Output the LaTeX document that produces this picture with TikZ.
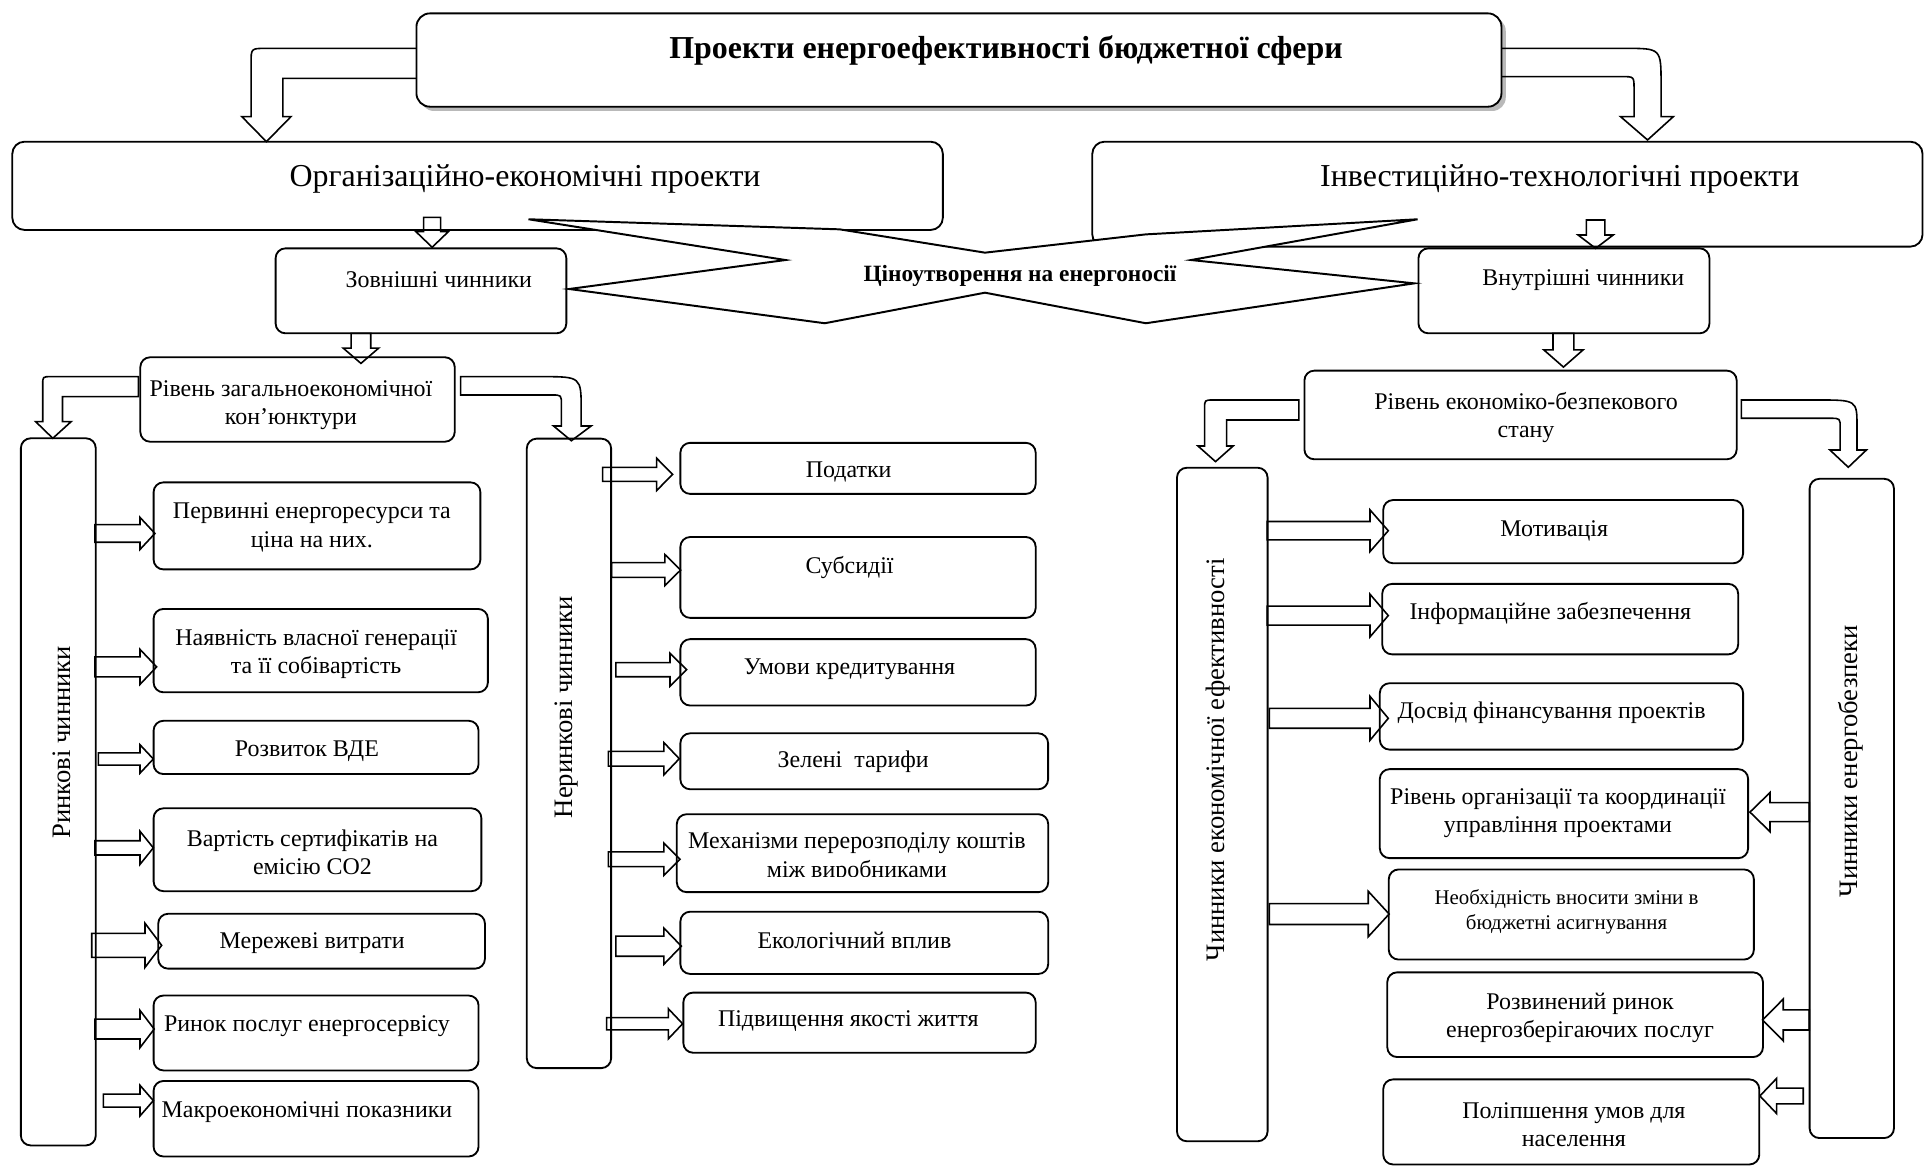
\documentclass[tikz,border=0pt]{standalone}
\usepackage{fontspec}
\setmainfont{Liberation Serif}
% box given by its corners x1,y1,x2,y2 and a name
\newcommand\bxn[6][]{\node[box,#1,minimum width={#4-#2},minimum height={#5-#3}] (#6) at ({(#2+#4)/2},{(#3+#5)/2}) {};}
% horizontal block arrow: x start, x head base, x tip, y, shaft half width, head half width
\newcommand\blockh[6]{\draw[blk] (#1,{#4-#5}) -- (#2,{#4-#5}) -- (#2,{#4-#6}) -- (#3,#4) -- (#2,{#4+#6}) -- (#2,{#4+#5}) -- (#1,{#4+#5}) -- cycle;}
% vertical block arrow: x, y start, y head base, y tip, shaft half width, head half width
\newcommand\blockv[6]{\draw[blk] ({#1-#5},#2) -- ({#1-#5},#3) -- ({#1-#6},#3) -- (#1,#4) -- ({#1+#6},#3) -- ({#1+#5},#3) -- ({#1+#5},#2) -- cycle;}
\begin{document}
\begin{tikzpicture}[x=1pt,y=-1pt,
  box/.style={draw, line width=1.5pt, rounded corners=8pt, inner sep=0pt},
  blk/.style={draw, line width=1.3pt, line join=miter},
  txt/.style={inner sep=0pt, align=center, yshift=-1.5pt, font=\fontsize{19.5}{23}\selectfont},
  big/.style={inner sep=0pt, yshift=-2.5pt, font=\fontsize{26}{30}\selectfont},
  vtxt/.style={inner sep=0pt, rotate=90, font=\fontsize{21.7}{25}\selectfont}]
\useasboundingbox (0,0) rectangle (1568,951);

% ---------- top level ----------
\fill[gray!55, rounded corners=11pt] (342.5,14.2) rectangle (1226.5,90.4);
\bxn[fill=white, rounded corners=11pt]{339.2}{10.9}{1223}{86.9}{title}
\node[big, font=\fontsize{26}{30}\selectfont\bfseries] (title-t) at (819.5,38.5) {Проекти енергоефективності бюджетної сфери};

\bxn[rounded corners=10pt]{10}{115.4}{768}{187.3}{org}
\node[big] (org-t) at (427.7,143.5) {Організаційно-економічні проекти};
\bxn[rounded corners=10pt]{889.7}{115.4}{1566}{200.9}{inv}
\node[big] (inv-t) at (1270.5,143.5) {Інвестиційно-технологічні проекти};

% bent arrows from the title box
\draw[blk] (339.2,39.4) -- (216.5,39.4) .. controls (204.5,39.4) .. (204.5,51.4) -- (204.5,95)
  -- (197,95) -- (217,115.4) -- (237,95) -- (230.4,95) -- (230.4,63.8) -- (339.2,63.8);
\draw[blk] (1223,39.4) -- (1324,39.4) .. controls (1353,39.4) .. (1353,68.4) -- (1353,95)
  -- (1363,95) -- (1342,114) -- (1320,95) -- (1331,95) -- (1331,72.4) .. controls (1331,62.4) .. (1321,62.4) -- (1223,62.4);

% ---------- factor groups ----------
\bxn{224.5}{202.3}{461.3}{271.5}{ext}
\node[txt] (ext-t) at (357.5,226) {Зовнішні чинники};
\bxn{1155.4}{202.3}{1392.4}{271.5}{int}
\node[txt] (int-t) at (1289.7,226.5) {Внутрішні чинники};

\blockv{352}{177}{188.7}{201.4}{6.9}{13.2}
\blockv{1299.7}{179.2}{191.4}{202.3}{7.5}{14.3}

% pricing shape between the groups
\draw[line width=1.6pt, fill=white, line join=miter] (430.5,178.6) -- (683.9,186.8) -- (802.3,205.8) -- (933.4,190.9)
  -- (1154.7,178.6) -- (970.2,211.8) -- (1152,230.8) -- (933.4,263.3) -- (802.3,238.4)
  -- (671.8,263.3) -- (463.6,235.4) -- (639.8,211.8) -- cycle;
\node[inner sep=0pt, font=\fontsize{19}{22}\selectfont\bfseries] (price) at (830.8,224.5) {Ціноутворення на енергоносії};

\blockv{294}{271.5}{283.5}{296}{8}{14.5}
\blockv{1273.5}{271.5}{285}{299}{8.5}{16}

% ---------- left branch ----------
\bxn{114.3}{291}{370.4}{359.8}{lvlA}
\node[txt] (lvlA-t) at (237,328.5) {Рівень загальноекономічної\\кон’юнктури};

\draw[blk] (112.7,306.8) -- (41.3,306.8) .. controls (34.8,306.8) .. (34.8,313.3) -- (34.8,343.4)
  -- (29,343.4) -- (43,357) -- (58,343.4) -- (50.9,343.4) -- (50.9,323.1) -- (112.7,323.1) -- cycle;
\draw[blk] (375.2,306.8) -- (441.4,306.8) .. controls (473.4,306.8) .. (473.4,334) -- (473.4,347)
  -- (481.5,347) -- (465.4,359) -- (450.9,347) -- (457.3,347) -- (457.3,329.7) .. controls (457.3,321.7) .. (449.3,321.7) -- (375.2,321.7) -- cycle;

\bxn{17}{357}{78}{933}{mkt}
\node[vtxt] (mkt-t) at (50,604.5) {Ринкові чинники};

\bxn{125.1}{392.9}{391.3}{463.8}{m1}
\node[txt] (m1-t) at (254,428) {Первинні енергоресурси та\\ціна на них.};
\bxn{125.1}{496}{397.4}{563.9}{m2}
\node[txt] (m2-t) at (257.5,531) {Наявність власної генерації\\та її собівартість};
\bxn{125.1}{587.1}{389.8}{630.5}{m3}
\node[txt] (m3-t) at (250,610) {Розвиток ВДЕ};
\bxn{125.1}{658.4}{392.1}{725.9}{m4}
\node[txt] (m4-t) at (254.5,692.5) {Вартість сертифікатів на\\емісію CO2};
\bxn{128.9}{744.3}{395}{789}{m5}
\node[txt] (m5-t) at (254.3,767) {Мережеві витрати};
\bxn{125.1}{810.9}{389.8}{871.9}{m6}
\node[txt] (m6-t) at (250,834.5) {Ринок послуг енергосервісу};
\bxn{125.1}{880.5}{389.8}{942}{m7}
\node[txt] (m7-t) at (250,904) {Макроекономічні показники};

\blockh{77.4}{114}{126.2}{434.5}{7.2}{13.1}
\blockh{77.4}{114}{127.6}{543.2}{8.1}{14.3}
\blockh{80.1}{114}{124.9}{618.2}{5}{11.6}
\blockh{77.4}{114}{124.9}{690.6}{5.8}{13.5}
\blockh{74.7}{118.1}{131.7}{770}{9.8}{18}
\blockh{77.4}{114}{125.6}{838.2}{8.1}{15.2}
\blockh{84.2}{114}{124.9}{896.5}{5.3}{12.5}

\bxn{429.1}{357.3}{497.8}{870}{nmkt}
\node[vtxt] (nmkt-t) at (461.8,576) {Неринкові чинники};

\bxn{554.2}{360.7}{843.6}{402.3}{n1}
\node[txt] (n1-t) at (691.3,383.3) {Податки};
\bxn{554.2}{437.4}{843.6}{503.3}{n2}
\node[txt] (n2-t) at (692,460.4) {Субсидії};
\bxn{554.2}{520.6}{843.6}{574.7}{n3}
\node[txt] (n3-t) at (692,543.8) {Умови кредитування};
\bxn{554.2}{597.3}{853.7}{642.9}{n4}
\node[txt] (n4-t) at (695,619.2) {Зелені~ тарифи};
\bxn{551.3}{663.2}{853.8}{726.7}{n5}
\begin{scope}
  \clip (552,664) rectangle (853,713.8);
  \node[txt] (n5-t) at (698,697) {Механізми перерозподілу коштів\\між виробниками};
\end{scope}
\bxn{554.2}{742.6}{853.8}{793.3}{n6}
\node[txt] (n6-t) at (696,764.6) {Екологічний вплив};
\bxn{556.6}{808.5}{843.6}{857.5}{n7}
\node[txt] (n7-t) at (691,830.5) {Підвищення якості життя};

\blockh{490.9}{534.9}{547.9}{386.4}{5.75}{13.1}
\blockh{498.2}{541.6}{554.4}{464.3}{6.05}{12.6}
\blockh{501.7}{545.7}{559.3}{545.5}{5.75}{13.45}
\blockh{495.5}{540.8}{553.3}{618}{6}{13.1}
\blockh{495.5}{540.8}{553.8}{699.9}{6}{13.1}
\blockh{501.7}{540.8}{555}{770.7}{8.2}{14.7}
\blockh{494.1}{544.4}{556}{833.9}{5}{12.25}

% ---------- right branch ----------
\bxn{1062.5}{301.9}{1414.6}{374.1}{lvlB}
\node[txt] (lvlB-t) at (1243,338.5) {Рівень економіко-безпекового\\стану};

\draw[blk] (1058,325.8) -- (988.2,325.8) .. controls (981.2,325.8) .. (981.2,332.8) -- (981.2,363.3)
  -- (975.8,363.3) -- (990.1,376) -- (1004.4,363.3) -- (999.1,363.3) -- (999.1,342.1) -- (1058,342.1) -- cycle;
\draw[blk] (1418.4,325.8) -- (1480,325.8) .. controls (1512.6,325.8) .. (1512.6,347.5) -- (1512.6,366.5)
  -- (1520.3,366.5) -- (1505.5,380.6) -- (1490.5,366.5) -- (1498.9,366.5) -- (1498.9,348.7) .. controls (1498.9,340.7) .. (1490.9,340.7) -- (1418.4,340.7) -- cycle;

\bxn{958.7}{381}{1032.5}{929.6}{eff}
\node[vtxt] (eff-t) at (992,619) {Чинники економічної ефективності};
\bxn{1474}{390}{1542.7}{927}{sec}
\node[vtxt] (sec-t) at (1507.4,620) {Чинники енергобезпеки};

\bxn{1126.7}{407.3}{1419.8}{458.8}{r1}
\node[txt] (r1-t) at (1266,430.7) {Мотивація};
\bxn{1125.9}{475.6}{1415.8}{533}{r2}
\node[txt] (r2-t) at (1262.8,498.6) {Інформаційне забезпечення};
\bxn{1123.9}{556.5}{1419.8}{610.6}{r3}
\node[txt] (r3-t) at (1263.8,579.1) {Досвід фінансування проектів};
\bxn{1123.9}{626.5}{1423.9}{699}{r4}
\node[txt] (r4-t) at (1269,661) {Рівень організації та координації\\управління проектами};
\bxn{1131.2}{708.2}{1428.6}{781.6}{r5}
\node[txt, font=\fontsize{17}{20}\selectfont] (r5-t) at (1276,741) {Необхідність вносити зміни в\\бюджетні асигнування};
\bxn{1130}{792}{1436}{861}{r6}
\node[txt] (r6-t) at (1287,827.7) {Розвинений ринок\\енергозберігаючих послуг};
\bxn{1126.7}{879.2}{1433}{948.5}{r7}
\node[txt] (r7-t) at (1282,914.6) {Поліпшення умов для\\населення};

\blockh{1032.2}{1115.9}{1130.8}{432.3}{7.5}{17}
\blockh{1032.2}{1115.9}{1130.8}{501.4}{7.75}{17.4}
\blockh{1033.9}{1115.9}{1130.8}{585.1}{8.1}{17.9}
\blockh{1033.9}{1114.5}{1131.5}{744.5}{8.5}{18.5}

\blockh{1473.7}{1441.7}{1425.4}{661.5}{7.7}{15.9}
\blockh{1473.7}{1452.5}{1435.7}{830.8}{8.2}{17}
\blockh{1468.8}{1447.1}{1433.5}{892.7}{6.4}{14.3}
\end{tikzpicture}
\end{document}
